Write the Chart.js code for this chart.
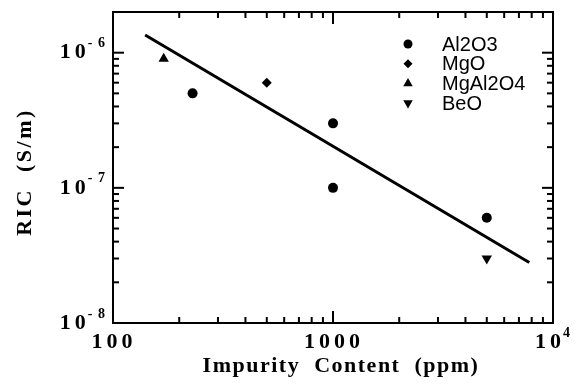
<!DOCTYPE html>
<html>
<head>
<meta charset="utf-8">
<script src="https://cdn.jsdelivr.net/npm/chart.js@4.4.0/dist/chart.umd.min.js"></script>
<style>
  html, body { margin: 0; padding: 0; background: #fff; }
  #wrap { width: 584px; height: 384px; }
</style>
</head>
<body>
<div id="wrap"><canvas id="chart1" width="584" height="384"></canvas></div>
<script>
// data
var al2o3X = [230, 1000, 1000, 5000];
var al2o3Y = [5e-7, 3e-7, 1e-7, 6e-8];
var mgoX = [500];
var mgoY = [6e-7];
var mgal2o4X = [170];
var mgal2o4Y = [9e-7];
var beoX = [5000];
var beoY = [3e-8];
var fitX = [140, 7800];
var fitY = [1.35e-6, 2.8e-8];

// axis ticks
var xMajorTicks = [100, 1000, 10000];
var xTickLabels = ['100', '1000', '10^4'];
var yMajorTicks = [1e-8, 1e-7, 1e-6];
var yTickLabels = ['10^-8', '10^-7', '10^-6'];

var pts = function (xs, ys) {
  return xs.map(function (x, i) { return { x: x, y: ys[i] }; });
};

// 2..9 x 10^e for each decade between the two exponents
var minorTicks = function (e0, e1) {
  var out = [];
  for (var e = e0; e < e1; e++) {
    for (var m = 2; m <= 9; m++) out.push(m * Math.pow(10, e));
  }
  return out;
};

var serif = '"Liberation Serif", "Times New Roman", serif';
var sans = '"Liberation Sans", Arial, Helvetica, sans-serif';

// draws "10" plus a superscript
var drawPow = function (ctx, txt, x, y, align) {
  var parts = txt.split('^');
  ctx.save();
  ctx.fillStyle = '#000';
  ctx.textBaseline = 'middle';
  ctx.textAlign = 'left';
  ctx.letterSpacing = '4px';
  ctx.font = 'bold 22px ' + serif;
  var wBase = ctx.measureText(parts[0]).width;
  var sup = parts[1] ? parts[1].replace('-', '- ') : '';
  ctx.font = 'bold 14px ' + serif;
  ctx.letterSpacing = '1px';
  var wSup = sup ? ctx.measureText(sup).width : 0;
  var total = wBase + wSup;
  var left = align === 'right' ? x - total : x - total / 2;
  ctx.letterSpacing = '4px';
  ctx.font = 'bold 22px ' + serif;
  ctx.fillText(parts[0], left, y);
  if (sup) {
    ctx.letterSpacing = '1px';
    ctx.font = 'bold 14px ' + serif;
    ctx.fillText(sup, left + wBase - 2, y - 9);
  }
  ctx.restore();
};

// short inward tick marks on all four sides
var tickPlugin = {
  id: 'inTicks',
  afterDatasetsDraw: function (chart) {
    var ctx = chart.ctx;
    var a = chart.chartArea;
    var sx = chart.scales.x, sy = chart.scales.y;
    var xs = xMajorTicks.map(function (v) { return [v, 12]; })
      .concat(minorTicks(2, 4).map(function (v) { return [v, 6]; }));
    var ys = yMajorTicks.map(function (v) { return [v, 11]; })
      .concat(minorTicks(-8, -6).map(function (v) { return [v, 6]; }));
    ctx.save();
    ctx.fillStyle = 'rgb(0,0,0)';
    xs.forEach(function (t) {
      var px = sx.getPixelForValue(t[0]);
      ctx.fillRect(px - 1, a.bottom - t[1], 2, t[1]);
      ctx.fillRect(px - 1, a.top, 2, t[1]);
    });
    ys.forEach(function (t) {
      var py = sy.getPixelForValue(t[0]);
      ctx.fillRect(a.left, py - 1, t[1], 2);
      ctx.fillRect(a.right - t[1], py - 1, t[1], 2);
    });
    ctx.restore();
  }
};

var framePlugin = {
  id: 'frame',
  afterDraw: function (chart) {
    var ctx = chart.ctx;
    var a = chart.chartArea;
    var sx = chart.scales.x, sy = chart.scales.y;

    ctx.save();
    ctx.strokeStyle = '#000';
    ctx.lineWidth = 2;
    ctx.strokeRect(a.left, a.top, a.right - a.left, a.bottom - a.top);
    ctx.restore();

    // tick labels
    xMajorTicks.forEach(function (v, i) {
      drawPow(ctx, xTickLabels[i], sx.getPixelForValue(v) + 1, a.bottom + 19, 'center');
    });
    yMajorTicks.forEach(function (v, i) {
      drawPow(ctx, yTickLabels[i], a.left - 5, sy.getPixelForValue(v), 'right');
    });

    // axis titles
    ctx.save();
    ctx.fillStyle = '#000';
    ctx.font = 'bold 22px ' + serif;
    ctx.letterSpacing = '1.5px';
    ctx.textAlign = 'center';
    ctx.textBaseline = 'middle';
    ctx.fillText('Impurity  Content  (ppm)', 341, 366);
    ctx.translate(25, 172);
    ctx.rotate(-Math.PI / 2);
    ctx.letterSpacing = '2.5px';
    ctx.fillText('RIC  (S/m)', 0, 0);
    ctx.restore();

    // legend inside the plot
    ctx.save();
    ctx.font = '20px ' + sans;
    ctx.fillStyle = '#000';
    ctx.strokeStyle = '#000';
    ctx.textBaseline = 'middle';
    ctx.textAlign = 'left';
    var items = chart.data.datasets.filter(function (d) { return d.label; });
    items.forEach(function (d, i) {
      var y = 44 + i * 19.7;
      Chart.helpers.drawPoint(ctx, {
        pointStyle: d.pointStyle,
        radius: d.legendRadius,
        rotation: d.pointRotation || 0,
        borderWidth: 0
      }, 408, y);
      ctx.fillText(d.label, 442, y + 1);
    });
    ctx.restore();
  }
};

new Chart(document.getElementById('chart1'), {
  type: 'scatter',
  data: {
    datasets: [
      { label: 'Al2O3', data: pts(al2o3X, al2o3Y), pointStyle: 'circle', pointRadius: 5, legendRadius: 4.5 },
      { label: 'MgO', data: pts(mgoX, mgoY), pointStyle: 'rectRot', pointRadius: 5, legendRadius: 4.5 },
      { label: 'MgAl2O4', data: pts(mgal2o4X, mgal2o4Y), pointStyle: 'triangle', pointRadius: 6, legendRadius: 5.5 },
      { label: 'BeO', data: pts(beoX, beoY), pointStyle: 'triangle', pointRotation: 180, pointRadius: 6, legendRadius: 5.5 },
      { label: '', data: pts(fitX, fitY), showLine: true, pointRadius: 0, borderWidth: 3 }
    ].map(function (d) {
      d.backgroundColor = '#000';
      d.borderColor = '#000';
      if (d.borderWidth === undefined) d.borderWidth = 0;
      return d;
    })
  },
  options: {
    responsive: false,
    animation: false,
    layout: { padding: { left: 113, top: 12, right: 31, bottom: 61 } },
    plugins: { legend: { display: false }, tooltip: { enabled: false } },
    scales: {
      x: { type: 'logarithmic', display: false, min: 100, max: 10000 },
      y: { type: 'logarithmic', display: false, min: 1e-8, max: 2e-6 }
    }
  },
  plugins: [tickPlugin, framePlugin]
});
</script>
</body>
</html>
